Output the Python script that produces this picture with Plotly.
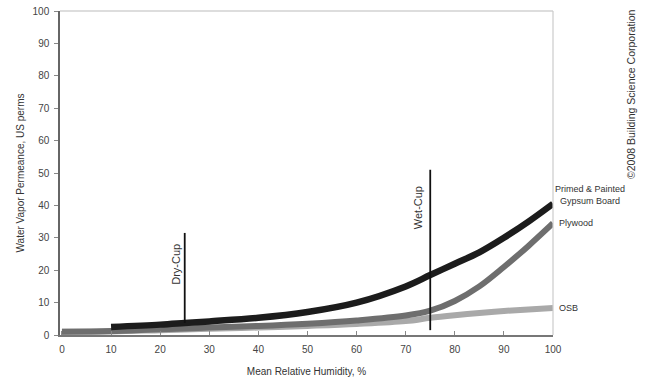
import plotly.graph_objects as go

rh = [0, 10, 20, 25, 30, 40, 50, 60, 70, 75, 80, 85, 90, 95, 100]
rh_gypsum = [10, 20, 25, 30, 40, 50, 60, 70, 75, 80, 85, 90, 95, 100]
gypsum = [2.5, 3.2, 3.7, 4.2, 5.3, 7.1, 10, 15, 18.5, 22, 25.5, 30, 35, 40.5]
plywood = [1.0, 1.2, 1.8, 2.0, 2.3, 2.8, 3.5, 4.5, 6.0, 7.5, 10.5, 15, 21, 27.5, 34.5]
osb = [1.0, 1.1, 1.5, 1.7, 1.9, 2.3, 2.8, 3.4, 4.3, 5.3, 6.1, 6.8, 7.4, 7.9, 8.3]
xticks = list(range(0, 101, 10))
yticks = list(range(0, 101, 10))

font = "Liberation Sans, Arial, sans-serif"
fig = go.Figure()
fig.add_trace(go.Scatter(x=rh, y=osb, mode="lines", line=dict(color="#a9a9a9", width=6, shape="spline"), showlegend=False))
fig.add_trace(go.Scatter(x=rh, y=plywood, mode="lines", line=dict(color="#6e6e6e", width=6, shape="spline"), showlegend=False))
fig.add_trace(go.Scatter(x=rh_gypsum, y=gypsum, mode="lines", line=dict(color="#1c1c1c", width=6.5, shape="spline"), showlegend=False))

# marker lines
fig.add_trace(go.Scatter(x=[25, 25], y=[31.5, 3.7], mode="lines", line=dict(color="#111", width=1.8), showlegend=False))
fig.add_trace(go.Scatter(x=[75, 75], y=[51, 1.5], mode="lines", line=dict(color="#111", width=1.8), showlegend=False))

ann = [
    dict(x=25, y=21.9, text="Dry-Cup", textangle=-90, xanchor="right", xshift=-1, size=11),
    dict(x=75, y=39.2, text="Wet-Cup", textangle=-90, xanchor="right", xshift=-4, size=11),
    dict(x=100, y=41, text="Primed & Painted<br>Gypsum Board", xanchor="left", align="center", yanchor="bottom", yshift=-6, xshift=0, size=9),
    dict(x=100, y=34.5, text="Plywood", xanchor="left", xshift=4, size=9),
    dict(x=100, y=8.3, text="OSB", xanchor="left", xshift=4, size=9),
]
for a in ann:
    s = a.pop("size")
    fig.add_annotation(showarrow=False, font=dict(family=font, size=s, color="#333"), **a)

fig.add_annotation(xref="paper", yref="paper", x=1.158, y=1.012, yanchor="top", xanchor="center",
                   text="©2008 Building Science Corporation",
                   showarrow=False, textangle=-90, font=dict(family=font, size=10.5, color="#333"))

fig.update_layout(
    width=647, height=383,
    margin=dict(l=60, r=94, t=11, b=48),
    plot_bgcolor="white", paper_bgcolor="white",
    font=dict(family=font, size=10, color="#444"),
    xaxis=dict(range=[-0.4, 100], tickvals=xticks, ticks="inside", ticklen=4, tickcolor="#888",
               showgrid=False, zeroline=False, showline=True, linecolor="#777", linewidth=1.5,
               automargin=False, ticklabelstandoff=4,
               title=dict(text="Mean Relative Humidity, %", font=dict(size=10, color="#333"), standoff=14)),
    yaxis=dict(range=[0, 100], tickvals=yticks, ticks="outside", ticklen=4, tickcolor="#888",
               showgrid=False, zeroline=False, showline=True, linecolor="#666", linewidth=1.5,
               automargin=False, ticklabelstandoff=3,
               title=dict(text="Water Vapor Permeance, US perms", font=dict(size=10, color="#333"), standoff=6)),
)
fig.add_shape(type="line", xref="paper", yref="paper", x0=0, x1=1, y0=1, y1=1, line=dict(color="#bbb", width=1.2))
fig.add_shape(type="line", xref="paper", yref="paper", x0=1, x1=1, y0=0, y1=1, line=dict(color="#ccc", width=1.2))
fig.write_html("out.html", config={"displayModeBar": False}, post_script="document.body.style.margin='0';")
